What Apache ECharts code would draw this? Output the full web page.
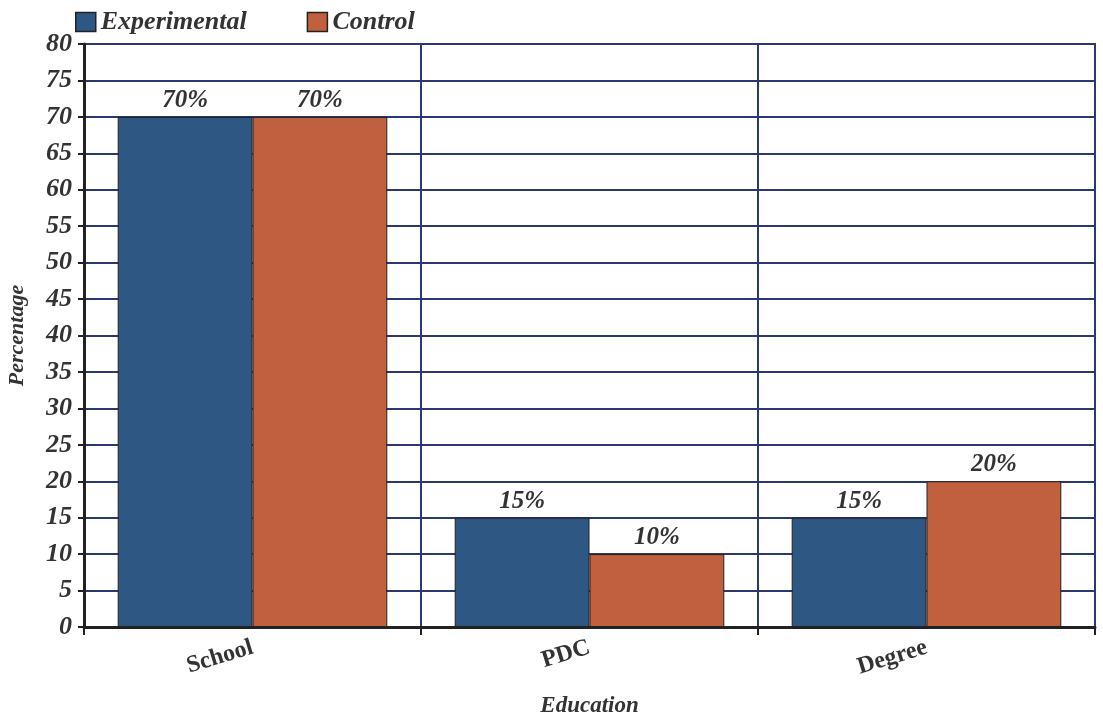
<!DOCTYPE html>
<html>
<head>
<meta charset="utf-8">
<script src="https://cdn.jsdelivr.net/npm/echarts@6/dist/echarts.min.js"></script>
<style>
  html, body { margin: 0; padding: 0; background: #fff; }
  #main { width: 1103px; height: 719px; }
</style>
</head>
<body>
<div id="main"></div>
<script>
const categories = ["School", "PDC", "Degree"];
const experimental = [70, 15, 15];
const control = [70, 10, 20];
const yTicks = [0, 80, 5];

const font = "Liberation Serif";
const textStyle = {
  fontFamily: font,
  fontWeight: "bold",
  fontStyle: "italic",
  color: "#333",
};
const navy = "#2c3872";

const chart = echarts.init(document.getElementById("main"));
chart.setOption({
  animation: false,
  legend: {
    left: 70,
    top: 4,
    icon: "rect",
    itemWidth: 20,
    itemHeight: 19,
    itemGap: 60,
    itemStyle: { borderColor: "#222", borderWidth: 1.5 },
    textStyle: { ...textStyle, fontSize: 26 },
    data: ["Experimental", "Control"],
  },
  grid: {
    left: 84,
    right: 8,
    top: 44,
    bottom: 92,
    outerBoundsMode: "none",
    show: true,
    borderColor: navy,
    borderWidth: 2,
  },
  xAxis: {
    type: "category",
    data: categories,
    name: "Education",
    nameLocation: "middle",
    nameGap: 68,
    nameTextStyle: { ...textStyle, fontSize: 23 },
    axisLine: { lineStyle: { color: "#222", width: 3 } },
    axisTick: { show: true, length: 8, lineStyle: { color: "#222", width: 2 } },
    splitLine: { show: true, lineStyle: { color: navy, width: 2 } },
    axisLabel: {
      ...textStyle,
      fontStyle: "normal",
      fontSize: 24,
      rotate: 17,
      interval: 0,
      margin: 20,
    },
  },
  yAxis: {
    type: "value",
    min: yTicks[0],
    max: yTicks[1],
    interval: yTicks[2],
    name: "Percentage",
    nameLocation: "middle",
    nameGap: 56,
    nameTextStyle: { ...textStyle, fontSize: 22 },
    axisLine: { show: true, lineStyle: { color: "#222", width: 3 } },
    axisTick: { show: true, length: 6, lineStyle: { color: "#222", width: 2 } },
    splitLine: { show: true, lineStyle: { color: navy, width: 2 } },
    axisLabel: { ...textStyle, fontSize: 26, margin: 12 },
  },
  series: [
    {
      name: "Experimental",
      type: "bar",
      data: experimental,
      barGap: "0%",
      barCategoryGap: "20%",
      itemStyle: { color: "#2e5783", borderColor: "#222", borderWidth: 1 },
      label: {
        show: true,
        position: "top",
        formatter: "{c}%",
        ...textStyle,
        fontSize: 25,
        distance: 4,
      },
    },
    {
      name: "Control",
      type: "bar",
      data: control,
      itemStyle: { color: "#c0603f", borderColor: "#222", borderWidth: 1 },
      label: {
        show: true,
        position: "top",
        formatter: "{c}%",
        ...textStyle,
        fontSize: 25,
        distance: 4,
      },
    },
  ],
});
</script>
</body>
</html>
